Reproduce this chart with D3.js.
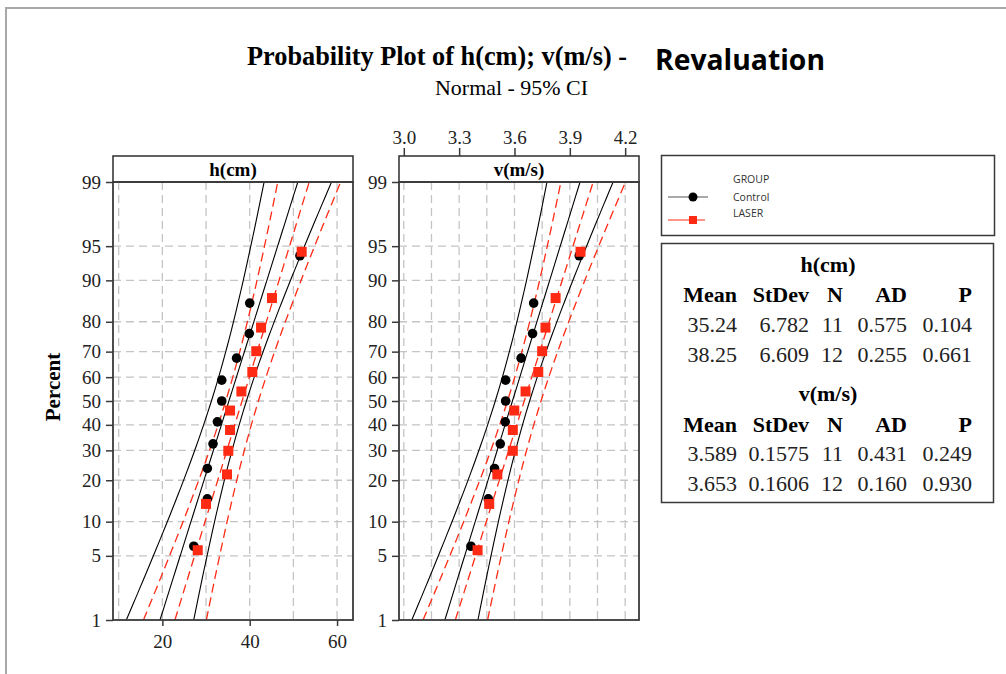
<!DOCTYPE html>
<html>
<head>
<meta charset="utf-8">
<script src="https://d3js.org/d3.v7.min.js"></script>
<style>
  body { margin: 0; background: #fff; }
</style>
</head>
<body>
<div id="chart"></div>
<script>
// values
const percentTicks = [1, 5, 10, 20, 30, 40, 50, 60, 70, 80, 90, 95, 99];
const hTicks = [20, 40, 60];
const hGrid = [10, 20, 30, 40, 50, 60];
const vTicks = [3.0, 3.3, 3.6, 3.9, 4.2];
const vGrid = [3.0, 3.15, 3.3, 3.45, 3.6, 3.75, 3.9, 4.05, 4.2];
const groups = ["Control", "LASER"];

const hControl = [27.2, 30.3, 30.3, 31.6, 32.6, 33.6, 33.6, 37.0, 39.9, 40.0, 51.5];
const hLaser = [28.1, 30.0, 34.8, 35.1, 35.5, 35.5, 38.1, 40.6, 41.5, 42.6, 45.1, 51.9];
const vControl = [3.364, 3.458, 3.492, 3.523, 3.550, 3.552, 3.552, 3.636, 3.698, 3.704, 3.951];
const vLaser = [3.400, 3.463, 3.507, 3.591, 3.591, 3.599, 3.660, 3.729, 3.750, 3.768, 3.823, 3.958];

const statHeads = ["Mean", "StDev", "N", "AD", "P"];
const hStats = [["35.24", "6.782", "11", "0.575", "0.104"],
                ["38.25", "6.609", "12", "0.255", "0.661"]];
const vStats = [["3.589", "0.1575", "11", "0.431", "0.249"],
                ["3.653", "0.1606", "12", "0.160", "0.930"]];

function chart() {
    const W = 1006, H = 674;
    const svg = d3.select("#chart").append("svg")
        .attr("width", W)
        .attr("height", H)
        .style("font-family", "'Liberation Serif', 'Times New Roman', serif");

    const serif = "'Liberation Serif', 'Times New Roman', serif";
    const sans = "'Open Sans', 'Liberation Sans', sans-serif";
    const red = "#ff2a14";

    //page border (top and left)
    svg.append("path")
        .attr("d", `M6,${H} L6,8 L${W},8`)
        .attr("fill", "none")
        .attr("stroke", "#a8a8a8")
        .attr("stroke-width", 2);

    //titles
    svg.append("text")
        .attr("x", 247).attr("y", 65)
        .attr("textLength", 380)
        .attr("lengthAdjust", "spacingAndGlyphs")
        .attr("font-size", 28)
        .attr("font-weight", "bold")
        .text("Probability Plot of h(cm); v(m/s) -");
    svg.append("text")
        .attr("x", 655).attr("y", 70)
        .attr("textLength", 170)
        .attr("lengthAdjust", "spacingAndGlyphs")
        .attr("font-family", sans)
        .attr("font-size", 28)
        .attr("font-weight", "bold")
        .text("Revaluation");
    svg.append("text")
        .attr("x", 435).attr("y", 95)
        .attr("textLength", 153)
        .attr("lengthAdjust", "spacingAndGlyphs")
        .attr("font-size", 21)
        .text("Normal - 95% CI");

    svg.append("text")
        .attr("transform", "translate(60,387) rotate(-90)")
        .attr("text-anchor", "middle")
        .attr("font-size", 21)
        .attr("font-weight", "bold")
        .text("Percent");

    //inverse normal cdf (Acklam)
    function probit(p) {
        const a = [-3.969683028665376e+01, 2.209460984245205e+02, -2.759285104469687e+02, 1.383577518672690e+02, -3.066479806614716e+01, 2.506628277459239e+00];
        const b = [-5.447609879822406e+01, 1.615858368580409e+02, -1.556989798598866e+02, 6.680131188771972e+01, -1.328068155288572e+01];
        const c = [-7.784894002430293e-03, -3.223964580411365e-01, -2.400758277161838e+00, -2.549732539343734e+00, 4.374664141464968e+00, 2.938163982698783e+00];
        const d = [7.784695709041462e-03, 3.224671290700398e-01, 2.445134137142996e+00, 3.754408661907416e+00];
        const plow = 0.02425;
        let q, r;
        if (p < plow) {
            q = Math.sqrt(-2 * Math.log(p));
            return (((((c[0]*q+c[1])*q+c[2])*q+c[3])*q+c[4])*q+c[5]) / ((((d[0]*q+d[1])*q+d[2])*q+d[3])*q+1);
        }
        if (p <= 1 - plow) {
            q = p - 0.5; r = q * q;
            return (((((a[0]*r+a[1])*r+a[2])*r+a[3])*r+a[4])*r+a[5])*q / (((((b[0]*r+b[1])*r+b[2])*r+b[3])*r+b[4])*r+1);
        }
        q = Math.sqrt(-2 * Math.log(1 - p));
        return -(((((c[0]*q+c[1])*q+c[2])*q+c[3])*q+c[4])*q+c[5]) / ((((d[0]*q+d[1])*q+d[2])*q+d[3])*q+1);
    }

    const top = 182, bottom = 620, headTop = 156;
    const zLo = probit(0.01), zHi = probit(0.99);
    const scaleY = d3.scaleLinear().domain([zLo, zHi]).range([bottom, top]);
    const zTicks = percentTicks.map(p => probit(p / 100));

    function panel(cfg) {
        const g = svg.append("g");
        const x = cfg.x;
        const L = cfg.left, R = cfg.right;

        g.append("clipPath").attr("id", "clip" + cfg.id)
            .append("rect")
            .attr("x", L).attr("y", top)
            .attr("width", R - L).attr("height", bottom - top);

        //grid
        g.selectAll(".vgrid").data(cfg.grid).enter()
            .append("line")
            .attr("x1", d => x(d)).attr("x2", d => x(d))
            .attr("y1", top).attr("y2", bottom)
            .attr("stroke", "#c4c4c4")
            .attr("stroke-width", 1.3)
            .attr("stroke-dasharray", "8,5");
        g.selectAll(".hgrid").data(zTicks.slice(1, -1)).enter()
            .append("line")
            .attr("x1", L).attr("x2", R)
            .attr("y1", d => scaleY(d)).attr("y2", d => scaleY(d))
            .attr("stroke", "#c4c4c4")
            .attr("stroke-width", 1.3)
            .attr("stroke-dasharray", "8,5");

        //fitted line and 95% CI from mean / stdev / N of each group
        const zs = d3.range(zLo, zHi, (zHi - zLo) / 80).concat([zHi]);
        const lines = g.append("g").attr("clip-path", `url(#clip${cfg.id})`);
        cfg.stats.forEach(function(s, gi) {
            const mu = parseFloat(s[0]), sd = parseFloat(s[1]), n = parseFloat(s[2]);
            [-1, 0, 1].forEach(function(k) {
                const line = d3.line()
                    .x(z => x(mu + z * sd + k * 1.96 * sd * Math.sqrt(1 / n + z * z / (2 * n))))
                    .y(z => scaleY(z));
                lines.append("path")
                    .attr("d", line(zs))
                    .attr("fill", "none")
                    .attr("stroke", gi === 0 ? "#000" : red)
                    .attr("stroke-width", gi === 0 ? 1.1 : 1.3)
                    .attr("stroke-dasharray", gi === 0 ? null : "9,5");
            });
        });

        //points, median ranks
        const ctrl = cfg.data[0].slice().sort(d3.ascending);
        const n0 = ctrl.length;
        g.selectAll(".ctrl").data(ctrl).enter()
            .append("circle")
            .attr("cx", d => x(d))
            .attr("cy", (d, i) => scaleY(probit((i + 0.7) / (n0 + 0.4))))
            .attr("r", 4.8)
            .attr("fill", "#000");
        const las = cfg.data[1].slice().sort(d3.ascending);
        const n1 = las.length;
        g.selectAll(".las").data(las).enter()
            .append("rect")
            .attr("x", d => x(d) - 5)
            .attr("y", (d, i) => scaleY(probit((i + 0.7) / (n1 + 0.4))) - 5)
            .attr("width", 10).attr("height", 10)
            .attr("fill", red);

        //frame + header strip
        g.append("rect")
            .attr("x", L).attr("y", headTop)
            .attr("width", R - L).attr("height", top - headTop)
            .attr("fill", "#fff")
            .attr("stroke", "#3a3a3a")
            .attr("stroke-width", 1.6);
        g.append("rect")
            .attr("x", L).attr("y", top)
            .attr("width", R - L).attr("height", bottom - top)
            .attr("fill", "none")
            .attr("stroke", "#3a3a3a")
            .attr("stroke-width", 1.8);
        g.append("text")
            .attr("x", (L + R) / 2).attr("y", 176)
            .attr("text-anchor", "middle")
            .attr("font-size", 19)
            .attr("font-weight", "bold")
            .text(cfg.label);

        //percent axis
        const axisY = d3.axisLeft(scaleY)
            .tickValues(zTicks)
            .tickFormat((d, i) => percentTicks[i])
            .tickSize(7)
            .tickPadding(5);
        const ay = g.append("g")
            .attr("transform", `translate(${L},0)`)
            .call(axisY);
        ay.select(".domain").remove();
        ay.selectAll("line").attr("stroke", "#3a3a3a").attr("stroke-width", 1.5);
        ay.selectAll("text").attr("font-family", serif).attr("font-size", 19).attr("fill", "#222");

        //value axis (bottom for h, top for v)
        const ax = g.append("g");
        if (cfg.axis === "bottom") {
            ax.attr("transform", `translate(0,${bottom})`)
                .call(d3.axisBottom(x).tickValues(cfg.ticks).tickSize(6).tickPadding(9));
        } else {
            ax.attr("transform", `translate(0,${headTop})`)
                .call(d3.axisTop(x).tickValues(cfg.ticks).tickFormat(d3.format(".1f")).tickSize(8).tickPadding(4));
        }
        ax.select(".domain").remove();
        ax.selectAll("line").attr("stroke", "#3a3a3a").attr("stroke-width", 1.5);
        ax.selectAll("text").attr("font-family", serif).attr("font-size", 19).attr("fill", "#222");
    }

    panel({
        id: "h", left: 113, right: 353, label: "h(cm)",
        x: d3.scaleLinear().domain([8.7, 63.65]).range([113, 353]),
        grid: hGrid, ticks: hTicks, axis: "bottom",
        data: [hControl, hLaser], stats: hStats
    });
    panel({
        id: "v", left: 399, right: 639, label: "v(m/s)",
        x: d3.scaleLinear().domain([2.974, 4.275]).range([399, 639]),
        grid: vGrid, ticks: vTicks, axis: "top",
        data: [vControl, vLaser], stats: vStats
    });

    //legend
    const lg = svg.append("g");
    lg.append("rect")
        .attr("x", 661.5).attr("y", 155.5)
        .attr("width", 333).attr("height", 80)
        .attr("fill", "#fff")
        .attr("stroke", "#3a3a3a")
        .attr("stroke-width", 1.5);
    lg.append("text").attr("x", 733).attr("y", 183)
        .attr("font-family", sans).attr("font-size", 10.5).attr("fill", "#333")
        .text("GROUP");
    groups.forEach(function(name, i) {
        const ly = [197, 220][i];
        lg.append("line")
            .attr("x1", 668).attr("x2", i === 0 ? 708 : 705)
            .attr("y1", ly).attr("y2", ly)
            .attr("stroke", i === 0 ? "#555" : red)
            .attr("stroke-width", 1.2);
        if (i === 0) {
            lg.append("circle").attr("cx", 693).attr("cy", ly).attr("r", 4.5).attr("fill", "#000");
        } else {
            lg.append("rect").attr("x", 689).attr("y", ly - 4).attr("width", 8).attr("height", 8).attr("fill", red);
        }
        lg.append("text").attr("x", 733).attr("y", [201, 217][i])
            .attr("font-family", sans).attr("font-size", 10.5).attr("fill", "#333")
            .text(name);
    });

    //statistics table
    const tb = svg.append("g");
    tb.append("rect")
        .attr("x", 661.5).attr("y", 243.5)
        .attr("width", 332).attr("height", 259)
        .attr("fill", "#fff")
        .attr("stroke", "#3a3a3a")
        .attr("stroke-width", 1.5);
    const colR = [737, 809, 843, 907, 972];
    const blocks = [
        {title: "h(cm)", rows: hStats, y: [272, 302, 332, 362]},
        {title: "v(m/s)", rows: vStats, y: [401, 432, 461, 491]}
    ];
    blocks.forEach(function(b) {
        tb.append("text")
            .attr("x", 828).attr("y", b.y[0])
            .attr("text-anchor", "middle")
            .attr("font-size", 22).attr("font-weight", "bold")
            .text(b.title);
        statHeads.forEach(function(hd, j) {
            tb.append("text")
                .attr("x", colR[j]).attr("y", b.y[1])
                .attr("text-anchor", "end")
                .attr("font-size", 22).attr("font-weight", "bold")
                .text(hd);
        });
        b.rows.forEach(function(row, r) {
            row.forEach(function(v, j) {
                tb.append("text")
                    .attr("x", colR[j]).attr("y", b.y[2 + r])
                    .attr("text-anchor", "end")
                    .attr("font-size", 22).attr("fill", "#222")
                    .text(v);
            });
        });
    });
}

chart();
</script>
</body>
</html>
